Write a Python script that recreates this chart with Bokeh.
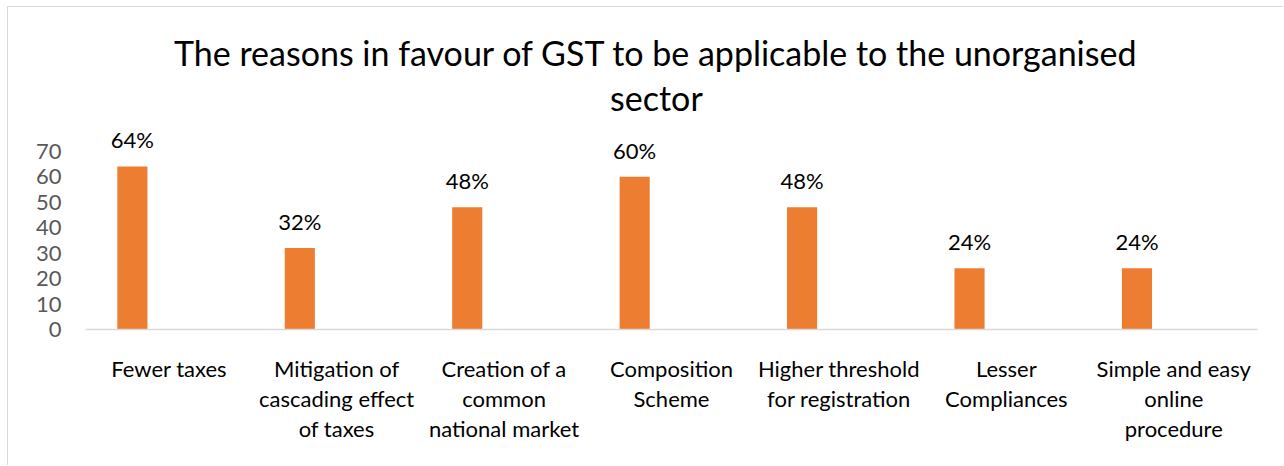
from bokeh.plotting import figure
from bokeh.models import FactorRange, Range1d, FixedTicker, ColumnDataSource, Label
from bokeh.transform import dodge
from bokeh.core.properties import value
from bokeh.embed import file_html
from bokeh.resources import INLINE

categories = ["Fewer taxes",
              "Mitigation of\ncascading effect\nof taxes",
              "Creation of a\ncommon\nnational market",
              "Composition\nScheme",
              "Higher threshold\nfor registration",
              "Lesser\nCompliances",
              "Simple and easy\nonline\nprocedure"]
values = [64, 32, 48, 60, 48, 24, 24]
value_labels = ["64%", "32%", "48%", "60%", "48%", "24%", "24%"]
y_ticks = [0, 10, 20, 30, 40, 50, 60, 70]
title_lines = ["The reasons in favour of GST to be applicable to the unorganised", "sector"]

FONT = "Lato"

src = ColumnDataSource(dict(cat=categories, val=values, lab=value_labels))

p = figure(x_range=FactorRange(*categories, range_padding=0), y_range=Range1d(0, 126),
           width=1276, height=459, output_backend="svg", toolbar_location=None,
           min_border_left=77, min_border_right=27, min_border_top=1, min_border_bottom=137)
p.outline_line_color = None
p.xgrid.grid_line_color = None
p.ygrid.grid_line_color = None
p.styles = {"margin-left": "7px", "margin-top": "6px",
            "border-left": "1px solid #D9D9D9", "border-top": "1px solid #D9D9D9"}

p.vbar(x=dodge("cat", -0.22, range=p.x_range), top="val", width=0.18, source=src,
       fill_color="#ED7D31", line_color=None)
p.text(x=dodge("cat", -0.22, range=p.x_range), y="val", text="lab", source=src,
       text_align="center", text_baseline="bottom", y_offset=-13,
       text_font=value(FONT), text_font_size="22px", text_color="#000000")

xa = p.xaxis[0]
xa.axis_line_color = "#D9D9D9"
xa.axis_line_width = 1.5
xa.major_tick_line_color = None
xa.minor_tick_line_color = None
xa.major_label_standoff = 19
xa.major_label_text_font = FONT
xa.major_label_text_font_size = "22px"
xa.major_label_text_color = "#000000"
xa.major_label_text_line_height = 1.12

ya = p.yaxis[0]
ya.ticker = FixedTicker(ticks=y_ticks)
ya.axis_line_color = None
ya.major_tick_line_color = None
ya.minor_tick_line_color = None
ya.major_label_standoff = 18
ya.major_label_text_font = FONT
ya.major_label_text_font_size = "22px"
ya.major_label_text_color = "#595959"

for t, yy in zip(title_lines, [108.8, 91.1]):
    p.add_layout(Label(x=3.41, y=yy, text=t,
                       text_align="center", text_baseline="middle",
                       text_font=FONT, text_font_size="34px", text_color="#000000"))

open("out.html", "w").write(file_html(p, INLINE))
